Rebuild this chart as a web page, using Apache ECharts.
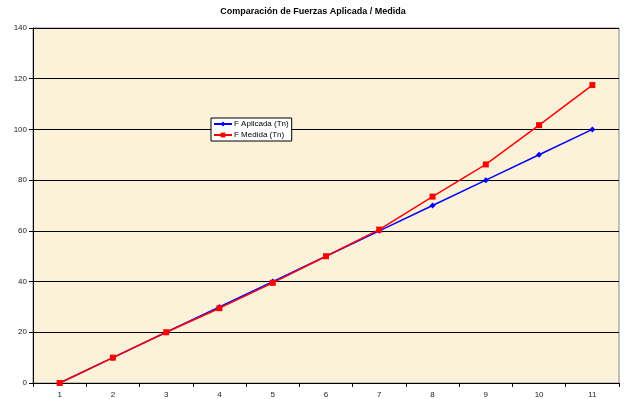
<!DOCTYPE html>
<html><head><meta charset="utf-8">
<script src="https://cdn.jsdelivr.net/npm/echarts@6/dist/echarts.min.js"></script>
<style>html,body{margin:0;padding:0;background:#fff}#c{width:626px;height:399px}</style>
</head><body><div id="c"></div>
<script>
const categories = ['1','2','3','4','5','6','7','8','9','10','11'];
const fAplicada = [0,10,20,30,40,50,60,70,80,90,100];
const fMedida = [0,10,20,29.5,39.5,50,60.5,73.5,86.2,101.7,117.5];
const chart = echarts.init(document.getElementById('c'), null, {renderer:'canvas'});
chart.setOption({
  animation:false,
  backgroundColor:'#fff',
  title:{text:'Comparación de Fuerzas Aplicada / Medida',left:'center',top:2,
    textStyle:{fontFamily:'Liberation Sans, Arial',fontSize:9,fontWeight:'bold',color:'#000'}},
  grid:{left:33,right:7,top:28,bottom:16,show:true,backgroundColor:'#FCF1D9',borderColor:'#888',borderWidth:1},
  legend:{orient:'vertical',left:211,top:118,backgroundColor:'#fff',borderColor:'#000',borderWidth:1,
    padding:[2,3,2,2],itemGap:3,itemWidth:18,itemHeight:6,
    textStyle:{fontFamily:'Liberation Sans, Arial',fontSize:8,color:'#000',padding:[0,0,0,-3]}},
  xAxis:{type:'category',data:categories,boundaryGap:true,
    axisLine:{lineStyle:{color:'#000',width:1}},
    axisTick:{show:true,length:4,lineStyle:{color:'#000'}},
    axisLabel:{fontFamily:'Liberation Sans, Arial',fontSize:8,color:'#222',margin:8}},
  yAxis:{type:'value',min:0,max:140,interval:20,
    axisLine:{show:true,lineStyle:{color:'#000',width:1}},
    axisTick:{show:true,length:4,lineStyle:{color:'#000'}},
    splitLine:{lineStyle:{color:'#000',width:1}},
    axisLabel:{fontFamily:'Liberation Sans, Arial',fontSize:8,color:'#222',margin:6}},
  series:[
    {name:'F Aplicada (Tn)',type:'line',data:fAplicada,symbol:'diamond',symbolSize:6,
      lineStyle:{color:'#0000FF',width:1.5},itemStyle:{color:'#0000FF'}},
    {name:'F Medida (Tn)',type:'line',data:fMedida,symbol:'rect',symbolSize:6,
      lineStyle:{color:'#FF0000',width:1.5},itemStyle:{color:'#FF0000'}}
  ]
});
</script></body></html>
